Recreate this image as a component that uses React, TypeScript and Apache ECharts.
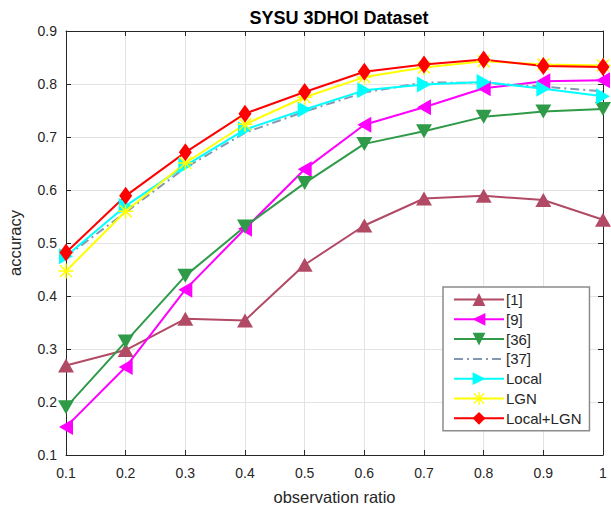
import React, { useEffect, useRef } from "react";
import * as echarts from "echarts";

const ratios = [0.1, 0.2, 0.3, 0.4, 0.5, 0.6, 0.7, 0.8, 0.9, 1.0];
const s1 = [0.269, 0.298, 0.357, 0.354, 0.459, 0.533, 0.584, 0.589, 0.581, 0.544];
const s9 = [0.153, 0.266, 0.412, 0.527, 0.639, 0.723, 0.756, 0.792, 0.805, 0.807];
const s36 = [0.19, 0.314, 0.438, 0.531, 0.613, 0.687, 0.711, 0.738, 0.748, 0.753];
const s37 = [0.474, 0.558, 0.642, 0.708, 0.748, 0.784, 0.803, 0.802, 0.795, 0.786];
const sLocal = [0.475, 0.57, 0.646, 0.714, 0.752, 0.788, 0.799, 0.804, 0.791, 0.777];
const sLGN = [0.447, 0.56, 0.651, 0.724, 0.775, 0.813, 0.831, 0.843, 0.837, 0.835];
const sLocalLGN = [0.482, 0.589, 0.671, 0.744, 0.785, 0.823, 0.837, 0.846, 0.834, 0.832];
const seriesNames = ["[1]", "[9]", "[36]", "[37]", "Local", "LGN", "Local+LGN"];

const asterisk =
  "path://M0 9 H20 V11 H0 Z M9 0 H11 V20 H9 Z M2.8 1.4 L18.6 17.2 L17.2 18.6 L1.4 2.8 Z M17.2 1.4 L18.6 2.8 L2.8 18.6 L1.4 17.2 Z";

const pair = (ys: number[]) => ratios.map((x, i) => [x, ys[i]]);

export default function App() {
  const ref = useRef<HTMLDivElement>(null);
  useEffect(() => {
    if (!ref.current) return;
    const chart = echarts.init(ref.current, undefined, { renderer: "svg" });
    const font = "Liberation Sans, Arial, sans-serif";
    const txt = "#262626";
    const fmt = (v: number) => String(Math.round(v * 10) / 10);
    const mk = (
      name: string,
      data: number[],
      color: string,
      symbol: string,
      size: number | number[],
      rotate = 0,
      lineType: any = "solid"
    ) => ({
      name,
      type: "line",
      data: pair(data),
      symbol,
      symbolSize: size,
      symbolRotate: rotate,
      showSymbol: symbol !== "none",
      lineStyle: { color, width: 2, type: lineType },
      itemStyle: { color, borderColor: color, borderWidth: 0 },
      emphasis: { disabled: true },
    });
    chart.setOption({
      animation: false,
      backgroundColor: "#ffffff",
      title: {
        text: "SYSU 3DHOI Dataset",
        left: 334,
        textAlign: "center",
        top: 4,
        textStyle: { fontFamily: font, fontSize: 18, fontWeight: "bold", color: "#000" },
      },
      legend: {
        orient: "vertical",
        left: 443,
        top: 287,
        padding: [5, 8, 5, 10],
        itemGap: 4.8,
        itemWidth: 50,
        itemHeight: 16,
        backgroundColor: "#ffffff",
        borderColor: "#8c8c8c",
        borderWidth: 1.5,
        borderRadius: 0,
        data: seriesNames.map((n) =>
          n === "[37]" ? { name: n, itemStyle: { opacity: 0 } } : { name: n }
        ),
        textStyle: { fontFamily: font, fontSize: 15, color: txt, padding: [0, 0, 0, -3] },
      },
      grid: {
        left: 66,
        right: 8,
        top: 31,
        bottom: 51,
        show: false,
        containLabel: false,
        outerBoundsMode: "none",
      },
      xAxis: [
        {
          type: "value",
          min: 0.1,
          max: 1,
          interval: 0.1,
          name: "observation ratio",
          nameLocation: "middle",
          nameGap: 33,
          nameTextStyle: { fontFamily: font, fontSize: 16.5, color: txt },
          axisLine: { show: true, onZero: false, lineStyle: { color: txt, width: 1 } },
          axisTick: { show: true, inside: true, length: 5, lineStyle: { color: txt } },
          axisLabel: { formatter: fmt, fontFamily: font, fontSize: 14, color: txt, margin: 11 },
          splitLine: { show: true, lineStyle: { color: "#e3e3e3", width: 1 } },
        },
        {
          type: "value",
          position: "top",
          min: 0.1,
          max: 1,
          interval: 0.1,
          axisLine: { show: true, onZero: false, lineStyle: { color: txt, width: 1 } },
          axisTick: { show: true, inside: true, length: 5, lineStyle: { color: txt } },
          axisLabel: { show: false },
          splitLine: { show: false },
        },
      ],
      yAxis: [
        {
          type: "value",
          min: 0.1,
          max: 0.9,
          interval: 0.1,
          name: "accuracy",
          nameLocation: "middle",
          nameGap: 43,
          nameTextStyle: { fontFamily: font, fontSize: 16.5, color: txt },
          axisLine: { show: true, onZero: false, lineStyle: { color: txt, width: 1 } },
          axisTick: { show: true, inside: true, length: 5, lineStyle: { color: txt } },
          axisLabel: { formatter: fmt, fontFamily: font, fontSize: 14, color: txt, margin: 9 },
          splitLine: { show: true, lineStyle: { color: "#e3e3e3", width: 1 } },
        },
        {
          type: "value",
          position: "right",
          min: 0.1,
          max: 0.9,
          interval: 0.1,
          axisLine: { show: true, onZero: false, lineStyle: { color: txt, width: 1 } },
          axisTick: { show: true, inside: true, length: 5, lineStyle: { color: txt } },
          axisLabel: { show: false },
          splitLine: { show: false },
        },
      ],
      series: [
        mk("[1]", s1, "#b24a66", "triangle", [16, 14], 0),
        mk("[9]", s9, "#ff00ff", "triangle", [16, 14], 90),
        mk("[36]", s36, "#2f9a48", "triangle", [16, 14], 180),
        mk("[37]", s37, "#8497b0", "none", 0, 0, [9, 4, 2, 4]),
        mk("Local", sLocal, "#00ffff", "triangle", [16, 14], -90),
        mk("LGN", sLGN, "#ffff00", asterisk, 15, 0),
        mk("Local+LGN", sLocalLGN, "#ff0000", "diamond", [13, 18], 0),
      ],
    });
    return () => chart.dispose();
  }, []);
  return (
    <div
      ref={ref}
      style={{ position: "absolute", left: 0, top: 0, width: 611, height: 506 }}
    />
  );
}
